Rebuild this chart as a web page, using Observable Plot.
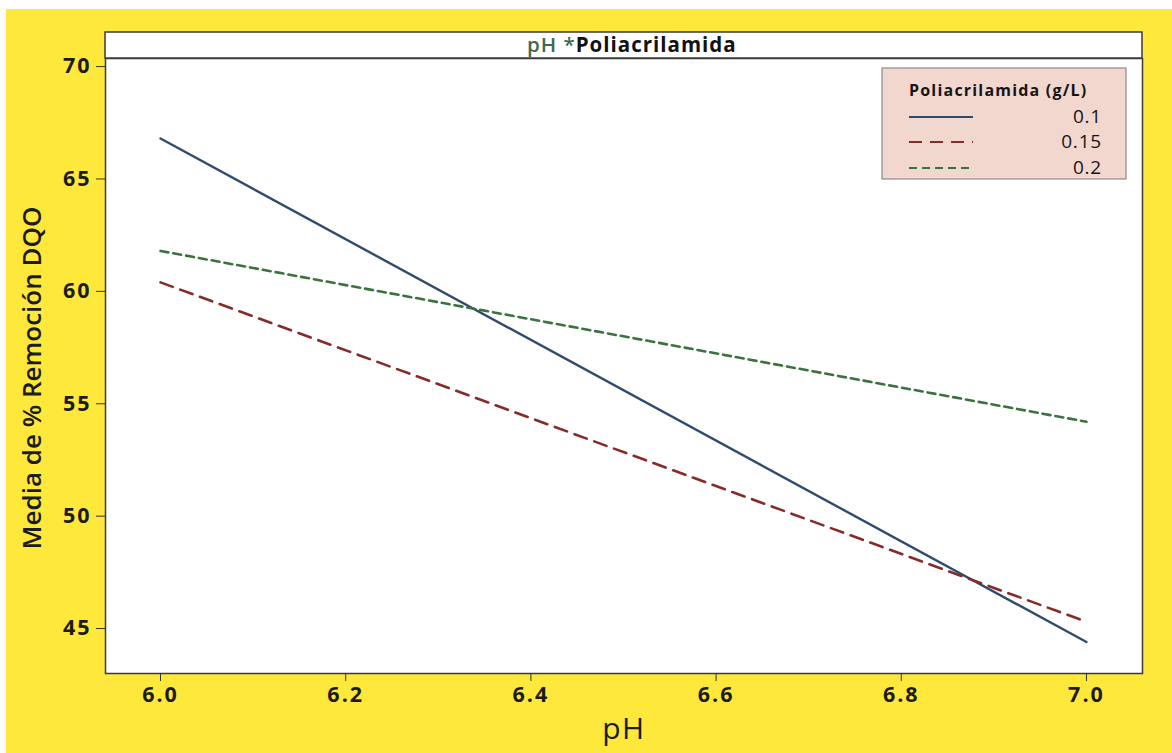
<!DOCTYPE html>
<html>
<head>
<meta charset="utf-8">
<script src="https://cdn.jsdelivr.net/npm/d3@7"></script>
<script src="https://cdn.jsdelivr.net/npm/@observablehq/plot@0.6"></script>
<style>
  html, body { margin: 0; padding: 0; background: #ffffff; }
  #chart { padding: 9px 0 0 6px; }
  #chart svg { display: block; }
  #chart g[aria-label="x-axis tick label"] text,
  #chart g[aria-label="y-axis tick label"] text { letter-spacing: 2px; }
</style>
</head>
<body>
<div id="chart"></div>
<script>
// Interaction plot: mean % COD removal vs pH, one line per polyacrylamide dose
const pHLevels = [6.0, 7.0];
const doses = ["0.1", "0.15", "0.2"];
const remocion01 = [66.8, 44.4];
const remocion015 = [60.4, 45.3];
const remocion02 = [61.8, 54.2];
const xTicks = [6.0, 6.2, 6.4, 6.6, 6.8, 7.0];
const yTicks = [45, 50, 55, 60, 65, 70];

const seriesValues = [remocion01, remocion015, remocion02];
const colors = ["#2f4c6e", "#862a2a", "#3b7240"];
const dashes = [null, "13,8", "8,5"];

const rows = doses.flatMap((d, i) =>
  pHLevels.map((p, j) => ({dose: d, pH: p, media: seriesValues[i][j]}))
);

const W = 1166, H = 744;
const ML = 99, MR = 30, MT = 49, MB = 80;
const FONT = "'Open Sans', sans-serif";

const lineMarks = doses.map((d, i) =>
  Plot.line(rows.filter(r => r.dose === d), {
    x: "pH", y: "media",
    stroke: colors[i],
    strokeWidth: i === 0 ? 2.4 : 2.6,
    strokeDasharray: dashes[i] ?? undefined
  })
);

const chart = Plot.plot({
  width: W,
  height: H,
  marginLeft: ML,
  marginRight: MR,
  marginTop: MT,
  marginBottom: MB,
  style: {
    background: "#fee83c",
    fontFamily: FONT,
    fontSize: "21px",
    color: "#1c1c1c",
    overflow: "visible"
  },
  x: {domain: [5.9406, 7.0605]},
  y: {domain: [43.0, 70.36]},
  marks: [
    Plot.frame({fill: "#ffffff"}),
    ...lineMarks,
    Plot.frame({stroke: "#3a3a3a", strokeWidth: 1.5}),
    Plot.axisX({
      ticks: xTicks, tickFormat: d3.format(".1f"), tickSize: 8, tickPadding: 5,
      fontSize: 21.5, fontWeight: 700, label: null, stroke: "#333"
    }),
    Plot.axisY({
      ticks: yTicks, tickSize: 9, tickPadding: 5,
      fontSize: 21.5, fontWeight: 700, label: null, stroke: "#333"
    }),
    Plot.text(["pH"], {
      frameAnchor: "bottom", dy: 65, fontSize: 30, fontWeight: 500,
      textAnchor: "middle", lineAnchor: "bottom", fill: "#1c1c1c"
    }),
    Plot.text(["Media de % Remoción DQO"], {
      frameAnchor: "left", dx: -73, dy: 12, rotate: -90, fontSize: 26,
      fontWeight: 600, textAnchor: "middle", lineAnchor: "middle", fill: "#1c1c1c"
    })
  ]
});

document.getElementById("chart").appendChild(chart);

const svg = d3.select(chart);
// the axis-title "pH" is a little wider-set than the default
svg.selectAll("text").filter(function () { return this.textContent === "pH"; })
  .style("letter-spacing", "1.5px");

// Panel header strip above the plot area
const strip = svg.append("g");
strip.append("rect")
  .attr("x", ML).attr("y", 23)
  .attr("width", W - ML - MR).attr("height", MT - 23)
  .attr("fill", "#ffffff").attr("stroke", "#3a3a3a").attr("stroke-width", 1.5);
const head = strip.append("text")
  .attr("x", 521).attr("y", 43)
  .attr("text-anchor", "start")
  .attr("font-size", 20.5)
  .attr("letter-spacing", "1px")
  .attr("font-family", FONT);
head.append("tspan").attr("fill", "#3c6b4c").attr("font-weight", 600).text("pH *");
head.append("tspan").attr("fill", "#111").attr("font-weight", 700).text("Poliacrilamida");

// Legend box for the polyacrylamide doses
const lg = svg.append("g").attr("transform", "translate(876,59)");
lg.append("rect")
  .attr("width", 244).attr("height", 111)
  .attr("fill", "#f2d7cf").attr("stroke", "#8a8a8a").attr("stroke-width", 1.2);
lg.append("text")
  .attr("x", 27).attr("y", 28)
  .attr("text-anchor", "start")
  .attr("font-size", 16).attr("font-weight", 700).attr("fill", "#151515")
  .attr("letter-spacing", "1.2px")
  .attr("font-family", FONT)
  .text("Poliacrilamida (g/L)");
const rowY = [49, 74, 100];
doses.forEach((d, i) => {
  lg.append("line")
    .attr("x1", 27).attr("x2", 91)
    .attr("y1", rowY[i]).attr("y2", rowY[i])
    .attr("stroke", colors[i]).attr("stroke-width", 2)
    .attr("stroke-dasharray", dashes[i]);
  lg.append("text")
    .attr("x", 220).attr("y", rowY[i] + 6)
    .attr("text-anchor", "end")
    .attr("font-size", 19).attr("font-weight", 500).attr("fill", "#151515")
    .attr("letter-spacing", "0.8px")
    .attr("font-family", FONT)
    .text(d);
});
</script>
</body>
</html>
